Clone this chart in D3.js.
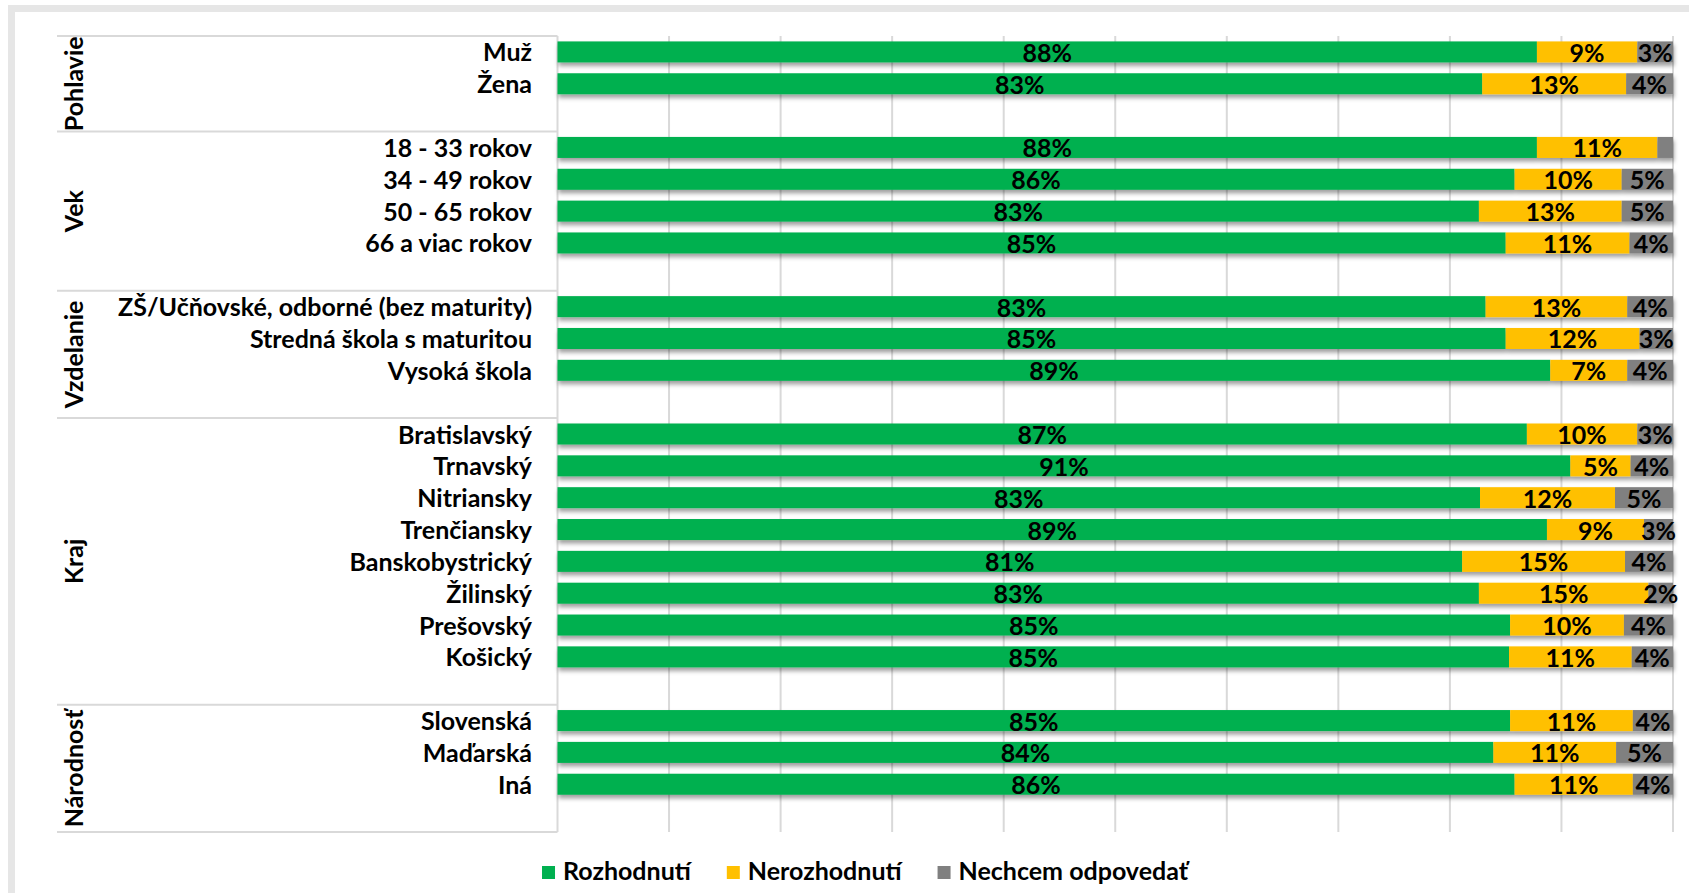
<!DOCTYPE html>
<html>
<head>
<meta charset="utf-8">
<script src="https://cdn.jsdelivr.net/npm/d3@7"></script>
<style>
  html, body { margin: 0; padding: 0; background: #ffffff; }
  svg { display: block; }
  text { font-family: Lato, "Open Sans", sans-serif; font-weight: 700; fill: #000; }
</style>
</head>
<body>
<svg id="chart" width="1689" height="893"></svg>
<script>
// ---- data ----
const groupNames = ["Pohlavie", "Vek", "Vzdelanie", "Kraj", "Národnosť"];
const categories = [
  "Muž", "Žena",
  "18 - 33 rokov", "34 - 49 rokov", "50 - 65 rokov", "66 a viac rokov",
  "ZŠ/Učňovské, odborné (bez maturity)", "Stredná škola s maturitou", "Vysoká škola",
  "Bratislavský", "Trnavský", "Nitriansky", "Trenčiansky", "Banskobystrický", "Žilinský", "Prešovský", "Košický",
  "Slovenská", "Maďarská", "Iná"
];
const categoryGroup = [
  "Pohlavie", "Pohlavie",
  "Vek", "Vek", "Vek", "Vek",
  "Vzdelanie", "Vzdelanie", "Vzdelanie",
  "Kraj", "Kraj", "Kraj", "Kraj", "Kraj", "Kraj", "Kraj", "Kraj",
  "Národnosť", "Národnosť", "Národnosť"
];
const seriesNames = ["Rozhodnutí", "Nerozhodnutí", "Nechcem odpovedať"];
const rozhodnuti   = [87.8, 82.9, 87.8, 85.8, 82.6, 85.0, 83.2, 85.0, 89.0, 86.9, 90.8, 82.7, 88.7, 81.1, 82.6, 85.4, 85.3, 85.4, 83.9, 85.8];
const nerozhodnuti = [ 9.0, 12.9, 10.8,  9.6, 12.8, 11.1, 12.7, 12.0,  6.9,  9.9,  5.4, 12.1,  8.7, 14.6, 15.2, 10.2, 11.0, 11.0, 11.0, 10.6];
const nechcem      = [ 3.2,  4.2,  1.4,  4.6,  4.6,  3.9,  4.1,  3.0,  4.1,  3.2,  3.8,  5.2,  2.6,  4.3,  2.2,  4.4,  3.7,  3.6,  5.1,  3.6];
const xTicks = [0, 10, 20, 30, 40, 50, 60, 70, 80, 90, 100];
const seriesColors = ["#00B050", "#FFC000", "#808080"];

// ---- layout ----
const W = 1689, H = 893;
const plotLeft = 557.5, plotRight = 1673, plotTop = 36, plotBottom = 832;
const tableLeft = 57;
const labelRight = 532;
const groupLabelX = 83;
const fontSize = 25;

const svg = d3.select("#chart");

// frame
svg.append("rect").attr("x", 0).attr("y", 0).attr("width", W).attr("height", H).attr("fill", "#ffffff");
svg.append("rect").attr("x", 11.5).attr("y", 8.5).attr("width", W + 100).attr("height", H + 100)
  .attr("fill", "none").attr("stroke", "#e6e6e6").attr("stroke-width", 7);

// slots: each group followed by an empty slot
const slots = [];
groupNames.forEach(g => {
  categories.forEach((c, i) => { if (categoryGroup[i] === g) slots.push(c); });
  slots.push("__gap_" + g);
});

const y = d3.scaleBand().domain(slots).range([plotTop, plotBottom]).paddingInner(0.34).paddingOuter(0.17);
const x = d3.scaleLinear().domain([0, 100]).range([plotLeft, plotRight]);
const step = y.step();

// shadow filter
const defs = svg.append("defs");
const f = defs.append("filter").attr("id", "shadow").attr("x", "-5%").attr("y", "-50%").attr("width", "110%").attr("height", "220%");
f.append("feDropShadow").attr("dx", 1).attr("dy", 3.5).attr("stdDeviation", 2).attr("flood-color", "#000").attr("flood-opacity", 0.38);

// gridlines
svg.append("g").selectAll("line").data(xTicks).join("line")
  .attr("x1", d => x(d)).attr("x2", d => x(d))
  .attr("y1", plotTop).attr("y2", plotBottom)
  .attr("stroke", "#d9d9d9").attr("stroke-width", 2);

// table lines (group separators)
const groupBounds = [];
let acc = 0;
groupNames.forEach(g => {
  const n = categoryGroup.filter(d => d === g).length + 1;
  acc += n;
  groupBounds.push({ g, y0: plotTop + (acc - n) * step, y1: plotTop + acc * step });
});
const sepYs = [plotTop].concat(groupBounds.map(b => b.y1));
svg.append("g").selectAll("line").data(sepYs).join("line")
  .attr("x1", tableLeft).attr("x2", plotLeft)
  .attr("y1", d => d).attr("y2", d => d)
  .attr("stroke", "#d9d9d9").attr("stroke-width", 2);

// stacked data
const rows = categories.map((c, i) => ({ cat: c, v: [rozhodnuti[i], nerozhodnuti[i], nechcem[i]] }));
const segs = [];
rows.forEach(r => {
  let s = 0;
  r.v.forEach((v, k) => { segs.push({ cat: r.cat, k, x0: s, x1: s + v, v }); s += v; });
});

const barG = svg.append("g").attr("filter", "url(#shadow)");
barG.selectAll("rect").data(segs).join("rect")
  .attr("x", d => x(d.x0)).attr("width", d => x(d.x1) - x(d.x0))
  .attr("y", d => y(d.cat)).attr("height", y.bandwidth())
  .attr("fill", d => seriesColors[d.k]);

// value labels
svg.append("g").selectAll("text").data(segs.filter(d => d.v >= 2)).join("text")
  .attr("x", d => (x(d.x0) + x(d.x1)) / 2)
  .attr("y", d => y(d.cat) + y.bandwidth() / 2 + 10)
  .attr("text-anchor", "middle")
  .style("font-size", fontSize + "px")
  .text(d => Math.round(d.v) + "%");

// category labels
svg.append("g").selectAll("text").data(categories).join("text")
  .attr("x", labelRight)
  .attr("y", d => y(d) + y.bandwidth() / 2 + 9.5)
  .attr("text-anchor", "end")
  .style("font-size", fontSize + "px")
  .text(d => d);

// group labels
svg.append("g").selectAll("text").data(groupBounds).join("text")
  .attr("transform", d => `translate(${groupLabelX},${(d.y0 + d.y1) / 2}) rotate(-90)`)
  .attr("text-anchor", "middle")
  .style("font-size", fontSize + "px")
  .text(d => d.g);

// legend
const legend = svg.append("g");
const sq = 13, gapSq = 8, gapItem = 36;
const items = legend.selectAll("g").data(seriesNames).join("g");
items.append("rect").attr("width", sq).attr("height", sq).attr("y", -14).attr("fill", (d, i) => seriesColors[i]);
items.append("text").attr("x", sq + gapSq).attr("y", 0).style("font-size", fontSize + "px").text(d => d);
let lx = 0;
const widths = [];
items.each(function () {
  widths.push(this.querySelector("text").getComputedTextLength());
});
items.attr("transform", (d, i) => {
  const t = `translate(${lx},0)`;
  lx += sq + gapSq + widths[i] + (i < widths.length - 1 ? gapItem : 0);
  return t;
});
const legendCenter = (tableLeft + plotRight) / 2;
legend.attr("transform", `translate(${legendCenter - lx / 2},880)`);
</script>
</body>
</html>
